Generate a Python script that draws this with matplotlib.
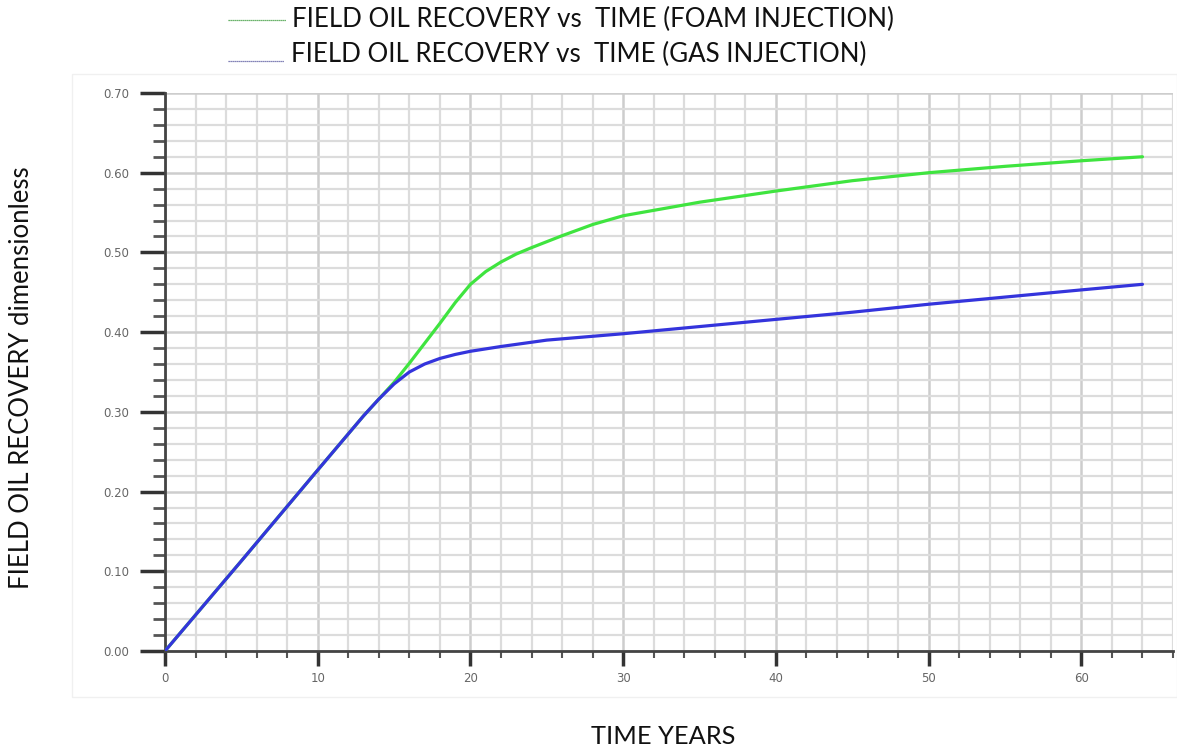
import matplotlib
matplotlib.use("Agg")
import matplotlib.pyplot as plt
from matplotlib.ticker import MultipleLocator, FormatStrFormatter
from matplotlib.patches import Rectangle
from matplotlib.lines import Line2D

# Data
time_foam = [0, 5, 10, 13, 14, 15, 16, 17, 18, 19, 20, 21, 22, 23, 24, 26, 28, 30, 35, 40, 45, 50, 55, 60, 64]
rec_foam = [0.0, 0.113, 0.227, 0.295, 0.316, 0.337, 0.361, 0.386, 0.411, 0.437, 0.460, 0.476, 0.488, 0.498, 0.506, 0.521, 0.535, 0.546, 0.563, 0.577, 0.590, 0.600, 0.608, 0.615, 0.620]
time_gas = [0, 5, 10, 13, 14, 15, 16, 17, 18, 19, 20, 22, 25, 30, 35, 40, 45, 50, 55, 60, 64]
rec_gas = [0.0, 0.113, 0.227, 0.295, 0.316, 0.335, 0.350, 0.360, 0.367, 0.372, 0.376, 0.382, 0.390, 0.398, 0.407, 0.416, 0.425, 0.435, 0.444, 0.453, 0.460]
legend_labels = ["FIELD OIL RECOVERY vs  TIME (FOAM INJECTION)",
                 "FIELD OIL RECOVERY vs  TIME (GAS INJECTION)"]
x_label = "TIME YEARS"
y_label = "FIELD OIL RECOVERY dimensionless"

W, H = 1177, 752
fig = plt.figure(figsize=(W / 100, H / 100), dpi=100)

# faint outer frame
fig.patches.append(Rectangle((72 / W, 1 - 697 / H), (W - 72) / W, (697 - 74) / H,
                             transform=fig.transFigure, fill=False,
                             edgecolor="#f0f0f0", linewidth=1.0))

left, right = 165 / W, 1173 / W
bottom, top = 1 - 651 / H, 1 - 93 / H
ax = fig.add_axes([left, bottom, right - left, top - bottom])

green = "#3fe43f"
blue = "#3434dc"
ax.plot(time_foam, rec_foam, color=green, lw=2.3, solid_capstyle="round",
        solid_joinstyle="round", zorder=3)
ax.plot(time_gas, rec_gas, color=blue, lw=2.3, solid_capstyle="round",
        solid_joinstyle="round", zorder=4)

ax.set_xlim(0, 66)
ax.set_ylim(0, 0.70)
ax.xaxis.set_major_locator(MultipleLocator(10))
ax.xaxis.set_minor_locator(MultipleLocator(2))
ax.yaxis.set_major_locator(MultipleLocator(0.1))
ax.yaxis.set_minor_locator(MultipleLocator(0.02))
ax.yaxis.set_major_formatter(FormatStrFormatter("%.2f"))

ax.grid(which="minor", color="#dcdcdc", lw=1.6)
ax.grid(which="major", color="#cdcdcd", lw=1.8)
ax.set_axisbelow(True)

for s in ["top", "right"]:
    ax.spines[s].set_visible(False)
for s in ["left", "bottom"]:
    ax.spines[s].set_color("#444444")
    ax.spines[s].set_linewidth(2.0)

ax.tick_params(axis="y", which="major", length=18, width=2.5, color="#333333",
               labelsize=8.5, labelcolor="#666666", pad=8)
ax.tick_params(axis="y", which="minor", length=9, width=2.0, color="#555555")
ax.tick_params(axis="x", which="major", length=11, width=2.5, color="#333333",
               labelsize=8.5, labelcolor="#666666", pad=4)
ax.tick_params(axis="x", which="minor", length=5, width=1.5, color="#555555")

# titles / labels
fig.text(22 / W, 1 - 378 / H, y_label, rotation=90, ha="center", va="center",
         fontsize=18.5, family="Lato", color="#111111")
fig.text(663 / W, 1 - 737 / H, x_label, ha="center", va="center",
         fontsize=18.3, family="Lato", color="#111111")

# legend (custom, no box)
fig.add_artist(Line2D([228 / W, 286 / W], [1 - 20 / H, 1 - 20 / H],
                      transform=fig.transFigure, color="#3a9a3a", lw=0.9, ls=(0, (1, 0.6))))
fig.add_artist(Line2D([228 / W, 284 / W], [1 - 61 / H, 1 - 61 / H],
                      transform=fig.transFigure, color="#5a5aa0", lw=0.9, ls=(0, (1, 0.6))))
fig.text(292 / W, 1 - 19 / H, legend_labels[0], ha="left", va="center",
         fontsize=18.6, family="Lato", color="#111111")
fig.text(291 / W, 1 - 54 / H, legend_labels[1], ha="left", va="center",
         fontsize=18.6, family="Lato", color="#111111")

fig.savefig("out.png", dpi=100)
